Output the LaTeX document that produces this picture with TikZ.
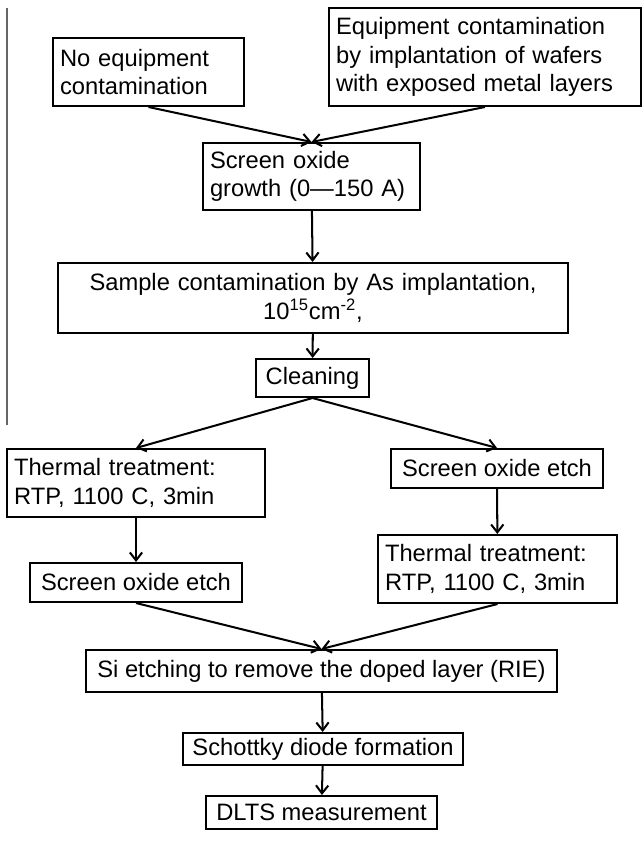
\documentclass[tikz,border=0pt]{standalone}
\usepackage{fontspec}
\setmainfont{Liberation Sans}
\usetikzlibrary{arrows.meta}

\begin{document}
\begin{tikzpicture}[x=0.02cm, y=-0.02cm,
  stage/.style={draw, line width=1.15pt, inner xsep=4pt, inner ysep=2pt,
                font=\fontsize{13.5}{16.2}\selectfont},
  flow/.style={-{Straight Barb[length=4.5pt, width=7pt]}, line width=1.15pt}]
  \useasboundingbox (0,0) rectangle (643,844);

  % page edge left over from the scan
  \coordinate (edgetop) at (7,8);
  \coordinate (edgebot) at (7,425);
  \draw[line width=0.8pt, black!60] (edgetop) -- (edgebot);

  % two starting cases
  \node[stage, text width=100.7pt, align=left, minimum height=1.36cm] (nocont) at (148.5,72)
        {No equipment\\ contamination};
  \node[stage, text width=169.5pt, align=left, minimum height=1.96cm] (eqcont) at (485,57)
        {Equipment contamination\\ by implantation of wafers\\ with exposed metal layers};

  % common steps
  \node[stage, text width=115.5pt, align=left, minimum height=1.34cm] (oxgrow) at (311.5,176.5)
        {Screen oxide\\ growth (0---150 A)};
  \node[stage, text width=282pt, align=center, minimum height=1.4cm] (sample) at (313,298)
        {Sample contamination by As implantation,\\ 10\textsuperscript{15}cm\textsuperscript{-2},};
  \node[stage, minimum width=2.26cm, minimum height=0.76cm] (clean) at (312.5,378) {Cleaning};

  % left branch
  \node[stage, text width=138.8pt, align=left, minimum height=1.36cm] (thermL) at (136,483)
        {Thermal treatment:\\ RTP, 1100 C, 3min};
  \node[stage, minimum width=4.24cm, minimum height=0.78cm] (etchL) at (136,582.5) {Screen oxide etch};

  % right branch
  \node[stage, minimum width=4.24cm, minimum height=0.78cm] (etchR) at (497,468.5) {Screen oxide etch};
  \node[stage, text width=128pt, align=left, minimum height=1.36cm] (thermR) at (497.5,569)
        {Thermal treatment:\\ RTP, 1100 C, 3min};

  % final steps
  \node[stage, minimum width=9.42cm, minimum height=0.84cm] (sietch) at (321.5,671)
        {Si etching to remove the doped layer (RIE)};
  \node[stage, minimum width=5.6cm, minimum height=0.64cm] (schottky) at (323,749) {Schottky diode formation};
  \node[stage, minimum width=4.62cm, minimum height=0.66cm] (dlts) at (321.5,812.5) {DLTS measurement};

  % arrows
  \draw[flow] (nocont.south) -- (oxgrow.north);
  \draw[flow] (eqcont.south) -- (oxgrow.north);
  \draw[flow] (oxgrow) -- (sample);
  \draw[flow] (sample) -- (clean);
  \draw[flow] (clean.south) -- (thermL.north);
  \draw[flow] (clean.south) -- (etchR.north);
  \draw[flow] (thermL) -- (etchL);
  \draw[flow] (etchR) -- (thermR);
  \draw[flow] (etchL.south) -- (sietch.north);
  \draw[flow] (thermR.south) -- (sietch.north);
  \draw[flow] (sietch) -- (schottky);
  \draw[flow] (schottky) -- (dlts);
\end{tikzpicture}
\end{document}
